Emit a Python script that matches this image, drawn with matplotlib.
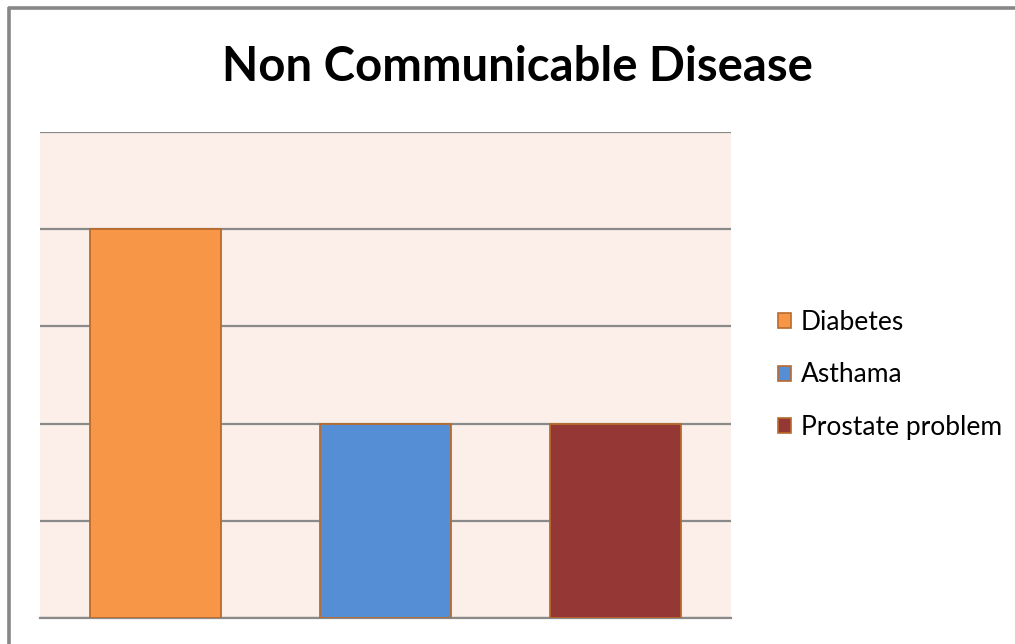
import matplotlib
matplotlib.use("Agg")
import matplotlib.pyplot as plt
from matplotlib.lines import Line2D
from matplotlib.patches import Patch

# Data
categories = ["Diabetes", "Asthama", "Prostate problem"]
values = [4, 2, 2]
colors = ["#F79646", "#558ED5", "#953735"]
title = "Non Communicable Disease"
y_max = 5

W, H = 1015, 644
fig = plt.figure(figsize=(W / 100, H / 100), dpi=100)
fig.patch.set_facecolor("white")

# Outer chart frame: left and top edges (the rest runs past the canvas)
frame_kw = dict(transform=fig.transFigure, color="#878787", linewidth=2.6,
                solid_capstyle="butt")
fig.add_artist(Line2D([9 / W, 9 / W], [0, 1 - 7 / H], **frame_kw))
fig.add_artist(Line2D([8 / W, 1.0], [1 - 8 / H, 1 - 8 / H], **frame_kw))

# Plot area in pixel coordinates
x0, x1, ytop, ybot = 40, 731, 132, 618
ax = fig.add_axes([x0 / W, 1 - ybot / H, (x1 - x0) / W, (ybot - ytop) / H])
ax.set_facecolor("#FCEEE9")

x = range(len(categories))
ax.bar(x, values, width=0.57, color=colors, edgecolor="#B86B2E",
       linewidth=1.3, zorder=3)
ax.set_xlim(-0.5, len(categories) - 0.5)
ax.set_ylim(0, y_max)
ax.set_yticks(range(0, y_max + 1))
ax.yaxis.grid(True, color="#8A8A8A", linewidth=1.6, zorder=1)
ax.set_axisbelow(True)
ax.tick_params(left=False, bottom=False, labelleft=False, labelbottom=False)
for side in ["left", "right", "top"]:
    ax.spines[side].set_visible(False)
ax.spines["bottom"].set_color("#8A8A8A")
ax.spines["bottom"].set_linewidth(1.6)

fig.text(517 / W, 1 - 67 / H, title, ha="center", va="center",
         fontsize=34, fontweight="bold", family="Lato", color="black")

handles = [Patch(facecolor=c, edgecolor="#B86B2E", linewidth=1.2)
           for c in colors]
leg = fig.legend(handles, categories, loc="center left",
                 bbox_to_anchor=(754 / W, 1 - 375 / H), frameon=False,
                 prop={"family": "Lato", "size": 19}, handlelength=0.5,
                 handleheight=0.5, handletextpad=0.38, labelspacing=1.05)

fig.savefig("out.png", dpi=100, facecolor="white")
